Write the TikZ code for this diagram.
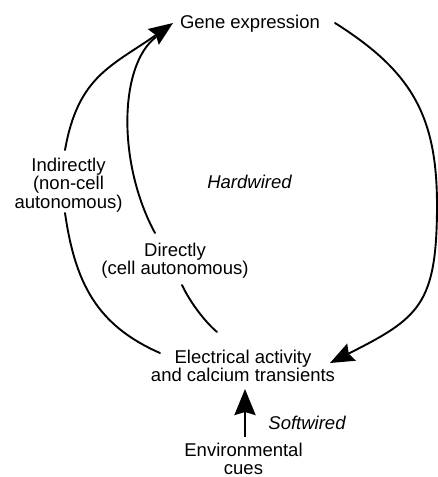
\documentclass[tikz,border=0pt]{standalone}
\usepackage{fontspec}
\setmainfont{Liberation Sans}
\usetikzlibrary{arrows.meta}
\begin{document}
\begin{tikzpicture}[x=1pt,y=-1pt,
  lbl/.style={font=\fontsize{18.5}{18.2}\selectfont, inner sep=0pt, align=center},
  ilbl/.style={font=\fontsize{18.5}{18.2}\selectfont\itshape, inner sep=0pt},
  curve/.style={line width=1.9pt, line cap=round},
  shaft/.style={line width=2.6pt},
  tip/.style={-{Stealth[length=24pt,width=19pt,inset=3pt]}},
  bigtip/.style={-{Stealth[length=26pt,width=21pt,inset=3pt]}}]
\useasboundingbox (0,0) rectangle (438,477);
% labels (base anchor = baseline of the last line)
\node[lbl,anchor=base] (gene) at (250,28) {Gene expression};
\node[ilbl,anchor=base] (hard) at (249.5,188) {Hardwired};
\node[lbl,anchor=base] (ind) at (68.5,208) {Indirectly\\(non-cell\\autonomous)};
\node[lbl,anchor=base] (dir) at (175,274.5) {Directly\\(cell autonomous)};
\node[lbl,anchor=base] (elec) at (243,381.7) {Electrical activity\\and calcium transients};
\node[ilbl,anchor=base] (soft) at (307,429) {Softwired};
\node[lbl,anchor=base] (env) at (243.5,474.5) {Environmental\\cues};
% connector end points
\coordinate (g1) at (335,23);
\coordinate (r1) at (437,205);
\coordinate (e1) at (330,363);
\coordinate (i1) at (65,150);
\coordinate (gt) at (173,23);
\coordinate (d1) at (155,233);
\coordinate (d2) at (156,37);
\coordinate (i2) at (65,213);
\coordinate (e2) at (160,353);
\coordinate (d3) at (182,285);
\coordinate (e3) at (217,332);
\coordinate (v1) at (245,437);
\coordinate (v2) at (245,389);
% connectors
\draw[curve,tip] (g1) .. controls (411,71) and (437,115) .. (r1)
   .. controls (437,305) and (419,318) .. (e1);
\draw[curve,tip] (i1) .. controls (78,76) and (112,66) .. (gt);
\draw[curve] (d1) .. controls (117,163) and (119,65) .. (d2);
\draw[curve] (i2) .. controls (75,282) and (96,325) .. (e2);
\draw[curve] (d3) .. controls (189,300) and (203,320) .. (e3);
\draw[shaft,bigtip] (v1) -- (v2);
\end{tikzpicture}
\end{document}
